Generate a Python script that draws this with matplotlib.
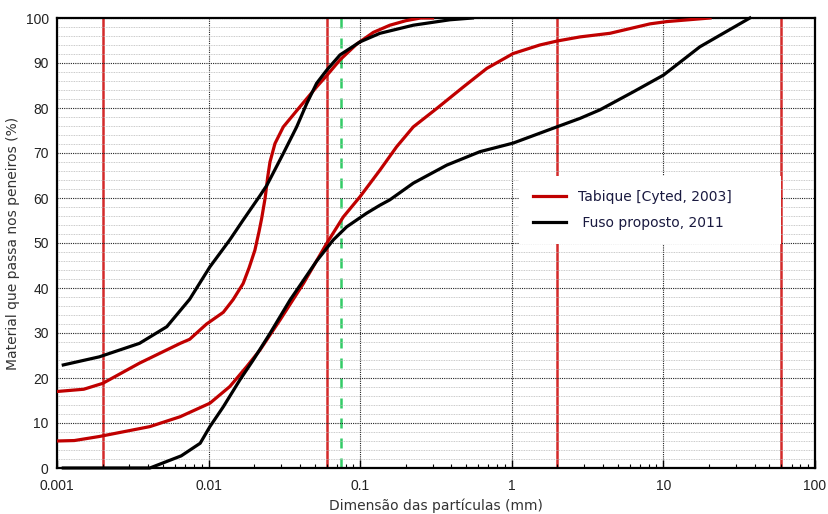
import matplotlib.pyplot as plt
from matplotlib.ticker import FixedLocator, NullFormatter, LogLocator
import numpy as np

# Tabique [Cyted, 2003] - limites superior e inferior
tab_sup_x = [0.001, 0.0015, 0.002, 0.0035, 0.0065, 0.0075, 0.0097, 0.0125, 0.0145, 0.0169,
             0.0185, 0.0202, 0.0215, 0.0224, 0.0236, 0.0245, 0.0254, 0.0274, 0.0311, 0.0401,
             0.0516, 0.0601, 0.0736, 0.0948, 0.122, 0.157, 0.2, 0.25, 0.3]
tab_sup_y = [17, 17.5, 18.8, 23.3, 27.7, 28.6, 32.0, 34.6, 37.4, 41,
             44.5, 48.4, 52.5, 55.5, 60, 64.5, 68, 72.1, 75.8, 80.3,
             84.7, 87.2, 90.7, 94.2, 96.8, 98.4, 99.4, 100, 100]

tab_inf_x = [0.001, 0.0013, 0.0019, 0.0041, 0.0065, 0.0102, 0.0138, 0.0178, 0.0218, 0.0296,
             0.0422, 0.0601, 0.0774, 0.0998, 0.135, 0.174, 0.224, 0.32, 0.48, 0.684,
             1.02, 1.53, 2.0, 2.82, 4.44, 8.17, 10.5, 20.3]
tab_inf_y = [6, 6.1, 7, 9.2, 11.4, 14.4, 18.1, 22.5, 26.2, 32.9,
             41, 49.9, 55.8, 60.3, 66.2, 71.4, 75.8, 79.9, 84.7, 88.8,
             92.1, 94, 94.9, 95.8, 96.6, 98.7, 99.2, 100]

# Fuso proposto, 2011 - limites superior e inferior
fuso_sup_x = [0.0011, 0.0019, 0.0035, 0.0053, 0.0075, 0.0102, 0.0138, 0.0169, 0.0218, 0.0242,
              0.0311, 0.0381, 0.0444, 0.0516, 0.0601, 0.0736, 0.0998, 0.135, 0.224, 0.39, 0.55]
fuso_sup_y = [22.9, 24.7, 27.7, 31.4, 37.5, 44.7, 50.7, 55.1, 60.5, 62.8,
              69.9, 75.8, 81, 85.5, 88.4, 91.8, 94.7, 96.6, 98.4, 99.6, 100]

fuso_inf_x = [0.0011, 0.002, 0.003, 0.0041, 0.0066, 0.0088, 0.0102, 0.0125, 0.0161, 0.0197,
              0.0254, 0.0344, 0.0516, 0.0665, 0.0815, 0.110, 0.135, 0.157, 0.224, 0.372,
              0.617, 1.02, 1.98, 2.82, 3.82, 6.34, 10, 17.4, 37.2]
fuso_inf_y = [0, 0, 0, 0, 2.7, 5.5, 9.2, 13.6, 19.6, 24,
              29.9, 37.3, 46, 50.7, 53.6, 56.6, 58.4, 59.6, 63.3, 67.3,
              70.3, 72.2, 75.8, 77.7, 79.6, 83.6, 87.3, 93.6, 100]

# limites granulometricos (argila / silte / areia / seixo) e peneiro #200
limites = [0.002, 0.06, 2, 60]
peneiro_200 = 0.075

RED = '#c00000'
tick_font = 'Liberation Sans'

fig = plt.figure(figsize=(8.29, 5.14), dpi=100)
ax = fig.add_axes([57 / 829, 1 - 468 / 514, 758 / 829, 450 / 514])

ax.set_xscale('log')
ax.set_xlim(0.001, 100)
ax.set_ylim(0, 100)

# grelha
ax.yaxis.set_major_locator(FixedLocator(np.arange(0, 101, 10)))
ax.yaxis.set_minor_locator(FixedLocator(np.arange(0, 101, 2)))
ax.xaxis.set_major_locator(LogLocator(base=10, numticks=10))
ax.xaxis.set_minor_locator(LogLocator(base=10, subs=np.arange(2, 10), numticks=10))
ax.xaxis.set_minor_formatter(NullFormatter())
ax.grid(which='major', axis='both', color='#222222', linestyle=(0, (1, 1)), linewidth=0.8, zorder=0)
ax.grid(which='minor', axis='y', color='#b8b8b8', linestyle=(0, (1, 1)), linewidth=0.6, zorder=0)
ax.set_xticks([0.001, 0.01, 0.1, 1, 10, 100])
ax.set_xticklabels(['0.001', '0.01', '0.1', '1', '10', '100'])

ax.tick_params(axis='x', which='major', direction='in', length=6, width=1, labelsize=10, pad=8)
ax.tick_params(axis='x', which='minor', direction='in', length=3, width=0.8)
ax.tick_params(axis='y', which='both', length=0, labelsize=10, pad=6)
for lab in ax.get_xticklabels() + ax.get_yticklabels():
    lab.set_fontfamily(tick_font)
    lab.set_color('#222222')

for s in ax.spines.values():
    s.set_linewidth(1.6)

for xv in limites:
    ax.axvline(xv, color='#d42a2a', linewidth=1.8, zorder=1)
ax.axvline(peneiro_200, color='#33cc66', linewidth=1.8, linestyle=(0, (4, 4)), zorder=1)

ax.plot(tab_sup_x, tab_sup_y, color=RED, linewidth=2.3, zorder=3, label='Tabique [Cyted, 2003]')
ax.plot(tab_inf_x, tab_inf_y, color=RED, linewidth=2.3, zorder=3)
ax.plot(fuso_sup_x, fuso_sup_y, color='black', linewidth=2.3, zorder=3, label=' Fuso proposto, 2011')
ax.plot(fuso_inf_x, fuso_inf_y, color='black', linewidth=2.3, zorder=3, clip_on=False)

ax.set_xlabel('Dimensão das partículas (mm)', fontsize=10, color='#333333', labelpad=4)
ax.set_ylabel('Material que passa nos peneiros (%)', fontsize=10, color='#333333', labelpad=4)

leg = ax.legend(loc='upper left', bbox_to_anchor=(0.609, 0.496, 0.346, 0.153), mode='expand',
                frameon=True, fancybox=False, framealpha=1, edgecolor='none',
                fontsize=10, handlelength=2.4, handletextpad=0.9, labelspacing=0.9,
                borderpad=1.0, borderaxespad=0)
leg.set_zorder(5)
for t in leg.get_texts():
    t.set_color('#1a1a40')

fig.savefig('out.png', dpi=100)
